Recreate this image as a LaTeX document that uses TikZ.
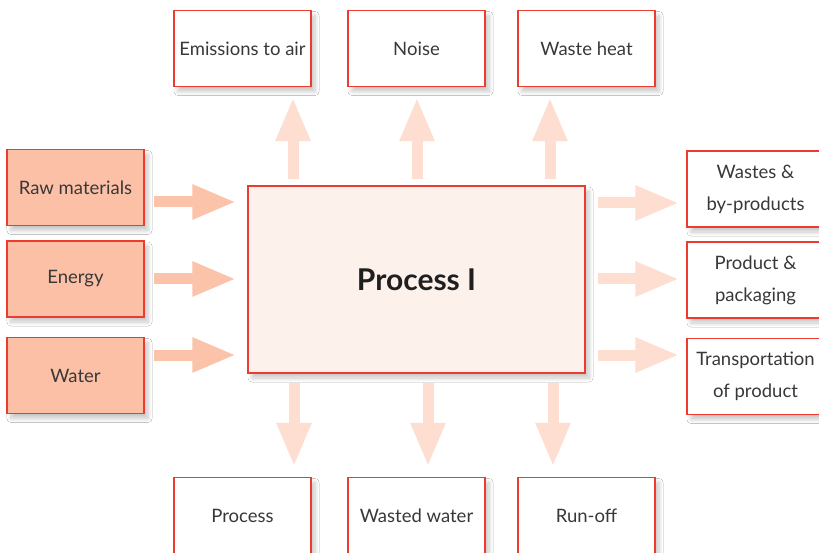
\documentclass[tikz,border=0pt]{standalone}
\usepackage{fontspec}
\setmainfont{Lato}
\usetikzlibrary{arrows.meta,shadows.blur}
\definecolor{edgered}{HTML}{EE3B30}
\definecolor{inbox}{HTML}{FBC0A6}
\definecolor{procfill}{HTML}{FDF1EC}
\definecolor{inflow}{HTML}{FBC3A9}
\definecolor{outflow}{HTML}{FDDED1}
\definecolor{ink}{HTML}{383838}
\tikzset{
  box/.style={draw=edgered, line width=1.3pt, fill=white, text=ink,
    minimum width=137pt, minimum height=76pt, inner sep=2pt,
    align=center, font=\fontsize{18.5}{32}\selectfont,
    blur shadow={shadow xshift=4pt, shadow yshift=-5pt, shadow blur steps=8,
      shadow opacity=22, shadow blur radius=4pt}},
  inputbox/.style={box, fill=inbox},
  procbox/.style={box, fill=procfill, minimum width=337pt, minimum height=187pt,
    font=\fontsize{30}{36}\selectfont\bfseries, text=black!88},
  flow/.style={line width=11pt, -{Triangle[width=32pt,length=44pt]}},
  inarrow/.style={flow, draw=inflow},
  outarrow/.style={flow, draw=outflow},
}
\begin{document}
\begin{tikzpicture}[x=1pt, y=-1pt]
\useasboundingbox (0,0) rectangle (819,553);
\clip (0,0) rectangle (819,553);
\fill[white] (0,0) rectangle (819,553);

% central process
\node[procbox] (proc) at (416.5,279.5) {Process I};

% inputs on the left
\node[inputbox] (raw)    at (75.5,187.5) {Raw materials};
\node[inputbox] (energy) at (75.5,279)   {Energy};
\node[inputbox] (water)  at (75.5,375.5) {Water};

% outputs above
\node[box] (emis)  at (242.5,48.5) {Emissions to air};
\node[box] (noise) at (416.5,48.5) {Noise};
\node[box] (heat)  at (586.5,48.5) {Waste heat};

% outputs on the right
\node[box] (waste)  at (755.5,189)   {Wastes \&\\by-products};
\node[box] (prod)   at (755.5,280)   {Product \&\\packaging};
\node[box] (trans)  at (755.5,376.5) {Transportation\\of product};

% outputs below
\node[box] (procout) at (242.5,515.5) {Process};
\node[box] (wwater)  at (416.5,515.5) {Wasted water};
\node[box] (runoff)  at (586.5,515.5) {Run-off};

% inflows
\foreach \src/\yy in {raw/202, energy/279, water/355}
  \draw[inarrow, shorten <=9pt, shorten >=11pt]
    (\src.east |- 0,\yy) -- (proc.west |- 0,\yy);

% outflows to the right
\foreach \dst/\yy in {waste/203, prod/279, trans/355}
  \draw[outarrow, shorten <=12pt, shorten >=7pt]
    (proc.east |- 0,\yy) -- (\dst.west |- 0,\yy);

% outflows upward
\foreach \dst/\xx in {emis/293, noise/417, heat/550}
  \draw[outarrow, shorten <=6pt, shorten >=10pt]
    (proc.north -| \xx,0) -- (\dst.south -| \xx,0);

% outflows downward
\foreach \dst/\xx in {procout/294, wwater/428, runoff/553}
  \draw[outarrow, shorten <=9pt, shorten >=10pt]
    (proc.south -| \xx,0) -- (\dst.north -| \xx,0);
\end{tikzpicture}
\end{document}
